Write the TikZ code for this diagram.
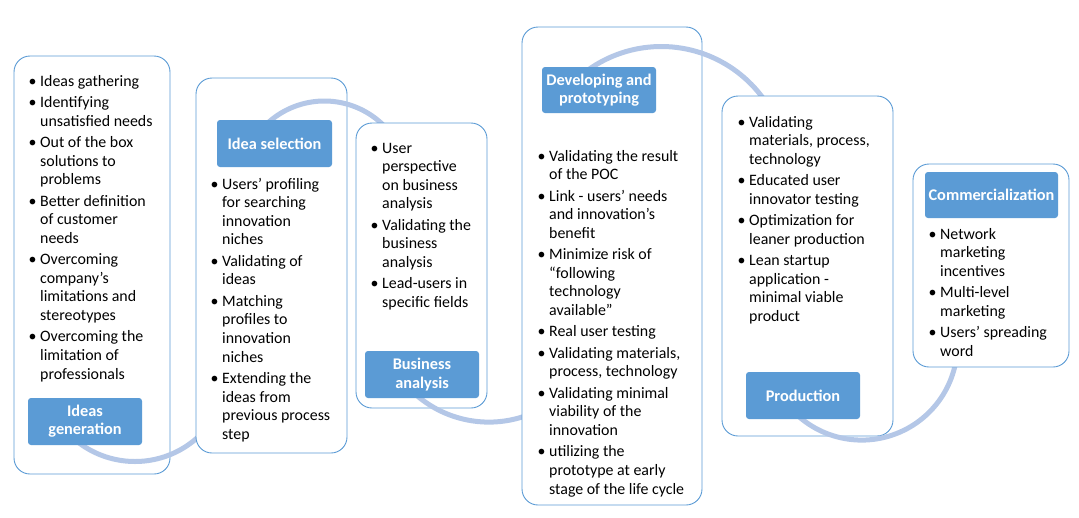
\documentclass[tikz,border=0pt]{standalone}
\usepackage{fontspec}
\setmainfont{Carlito}
\definecolor{lblue}{RGB}{91,155,213}
\definecolor{arcblue}{RGB}{180,199,231}
\newcommand{\itm}{\makebox[9pt][l]{\hspace{-2.5pt}\textbullet}}
\newcommand{\isep}{\\[2.8pt]}
\tikzset{
  cont/.style={draw=lblue, line width=0.9pt, fill=white, rounded corners=16pt, inner sep=0pt},
  lbl/.style={fill=lblue, rounded corners=3pt, text=white, inner sep=0pt, align=center,
    font=\fontsize{16.3}{18.3}\selectfont\bfseries},
  txt/.style={inner sep=0pt, anchor=base west, font=\fontsize{15.9}{18.6}\selectfont},
  flow/.style={draw=arcblue, line width=5pt}
}
\begin{document}
\begin{tikzpicture}[x=1pt,y=-1pt]
\useasboundingbox (0,0) rectangle (1079,517);
% containers and arcs (alternating so that each arc lies under the next container)
\node[cont, minimum width=156pt, minimum height=418pt] (b1) at (92,265) {};
\coordinate (c1) at (135,368);
\draw[flow] plot[domain=30:128, samples=50] ({135+93.5*cos(\x)},{368+93.5*sin(\x)});
\node[cont, minimum width=151pt, minimum height=375pt] (b2) at (271.5,265.5) {};
\coordinate (c2) at (324.4,185);
\draw[flow] plot[domain=-135:-30, samples=50] ({324.4+84*cos(\x)},{185+84*sin(\x)});
\node[cont, minimum width=131pt, minimum height=285pt] (b3) at (421.5,265.5) {};
\coordinate (c3) at (488.9,311.1);
\draw[flow] plot[domain=55:135, samples=50] ({488.9+111*cos(\x)},{311.1+111*sin(\x)});
\node[cont, minimum width=180pt, minimum height=478pt] (b4) at (612,266) {};
\coordinate (c4) at (661.3,172.5);
\draw[flow] plot[domain=-130:-25, samples=50] ({661.3+126*cos(\x)},{172.5+126*sin(\x)});
\node[cont, minimum width=171pt, minimum height=340pt] (b5) at (807.5,266) {};
\coordinate (c5) at (861.7,344.4);
\draw[flow] plot[domain=0:135, samples=60] ({861.7+95.7*cos(\x)},{344.4+95.7*sin(\x)});
\node[cont, minimum width=156pt, minimum height=203pt] (b6) at (991,265.5) {};
% labels
\node[lbl, minimum width=114pt, minimum height=47pt] (l1) at (85,421.5) {Ideas\\generation};
\node[lbl, minimum width=115pt, minimum height=47pt] (l2) at (274.5,143.5) {Idea selection};
\node[lbl, minimum width=114pt, minimum height=47pt] (l3) at (422,374.5) {Business\\analysis};
\node[lbl, minimum width=114pt, minimum height=46pt] (l4) at (599,90) {Developing and\\prototyping};
\node[lbl, minimum width=114pt, minimum height=47pt] (l5) at (803,395.5) {Production};
\node[lbl, minimum width=133pt, minimum height=46pt] (l6) at (991.5,195) {Commercialization};
% texts
\node[txt] (t1) at (31,86) {\begin{tabular}[t]{@{}l@{}l@{}}
\itm & Ideas gathering\isep
\itm & Identifying\\ & unsatisfied needs\isep
\itm & Out of the box\\ & solutions to\\ & problems\isep
\itm & Better definition\\ & of customer\\ & needs\isep
\itm & Overcoming\\ & company’s\\ & limitations and\\ & stereotypes\isep
\itm & Overcoming the\\ & limitation of\\ & professionals
\end{tabular}};
\node[txt] (t2) at (213,189) {\begin{tabular}[t]{@{}l@{}l@{}}
\itm & Users’ profiling\\ & for searching\\ & innovation\\ & niches\isep
\itm & Validating of\\ & ideas\isep
\itm & Matching\\ & profiles to\\ & innovation\\ & niches\isep
\itm & Extending the\\ & ideas from\\ & previous process\\ & step
\end{tabular}};
\node[txt] (t3) at (373,153) {\begin{tabular}[t]{@{}l@{}l@{}}
\itm & User\\ & perspective\\ & on business\\ & analysis\isep
\itm & Validating the\\ & business\\ & analysis\isep
\itm & Lead-users in\\ & specific fields
\end{tabular}};
\node[txt] (t4) at (540,161) {\begin{tabular}[t]{@{}l@{}l@{}}
\itm & Validating the result\\ & of the POC\isep
\itm & Link - users’ needs\\ & and innovation’s\\ & benefit\isep
\itm & Minimize risk of\\ & “following\\ & technology\\ & available”\isep
\itm & Real user testing\isep
\itm & Validating materials,\\ & process, technology\isep
\itm & Validating minimal\\ & viability of the\\ & innovation\isep
\itm & utilizing the\\ & prototype at early\\ & stage of the life cycle
\end{tabular}};
\node[txt] (t5) at (740,127) {\begin{tabular}[t]{@{}l@{}l@{}}
\itm & Validating\\ & materials, process,\\ & technology\isep
\itm & Educated user\\ & innovator testing\isep
\itm & Optimization for\\ & leaner production\isep
\itm & Lean startup\\ & application -\\ & minimal viable\\ & product
\end{tabular}};
\node[txt] (t6) at (931,239) {\begin{tabular}[t]{@{}l@{}l@{}}
\itm & Network\\ & marketing\\ & incentives\isep
\itm & Multi-level\\ & marketing\isep
\itm & Users’ spreading\\ & word
\end{tabular}};
\end{tikzpicture}
\end{document}
